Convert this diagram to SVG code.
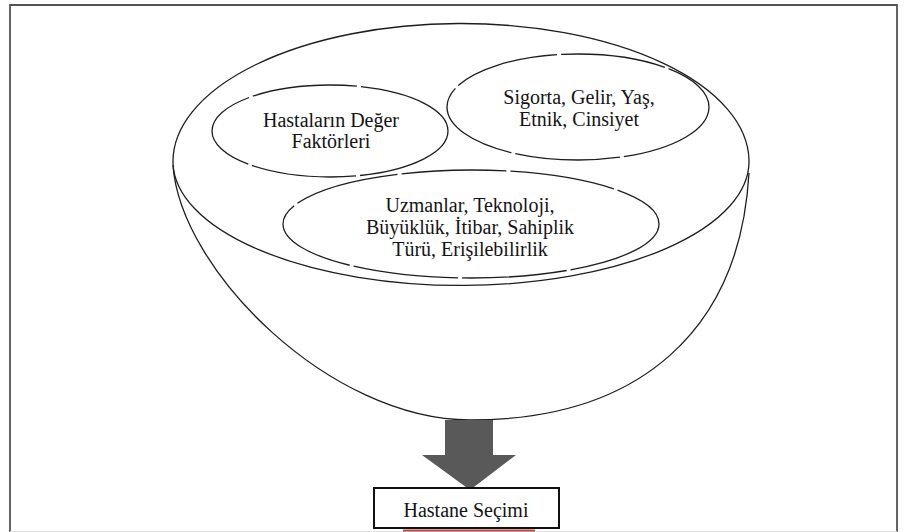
<svg xmlns="http://www.w3.org/2000/svg" width="905" height="532" viewBox="0 0 905 532">
  <style>
    .line { fill: none; stroke: #1e1e1e; stroke-width: 1.3; }
    .oval { fill: none; stroke: #1e1e1e; stroke-width: 1.3; stroke-dasharray: 105 4; }
    .label { font-size: 20px; fill: #141414; text-anchor: middle; }
  </style>

  <rect x="0" y="0" width="905" height="532" fill="#ffffff"/>

  <!-- page frame -->
  <path d="M10,532 V5 H897 V532" fill="none" stroke="#555555" stroke-width="1.8"/>
  <line x1="10" y1="531.5" x2="897" y2="531.5" stroke="#e2e2e2" stroke-width="1"/>

  <!-- bowl: open rim on top, rounded body underneath -->
  <g id="bowl">
    <path class="line" d="M173,163 A288,138 0 0 1 749,160"/>
    <path class="line" d="M173,163 A288,124 0 0 0 749,160"/>
    <path class="line" d="M173,165 C180,270 330,420 470,420 C640,420 740,330 749,173"/>
  </g>

  <g font-family="Liberation Serif, Tinos, Times New Roman, Times, Nimbus Roman, FreeSerif, DejaVu Serif, Noto Serif, serif">
    <g id="patient-values">
      <ellipse class="oval" cx="330" cy="131" rx="118" ry="46"/>
      <text class="label" x="331" y="127">Hastaların Değer</text>
      <text class="label" x="331" y="148">Faktörleri</text>
    </g>

    <g id="demographics">
      <ellipse class="oval" cx="578" cy="107" rx="131" ry="53"/>
      <text class="label" x="579" y="104">Sigorta, Gelir, Yaş,</text>
      <text class="label" x="579" y="126">Etnik, Cinsiyet</text>
    </g>

    <g id="hospital-features">
      <ellipse class="oval" cx="471" cy="224" rx="188" ry="54"/>
      <text class="label" x="470" y="212">Uzmanlar, Teknoloji,</text>
      <text class="label" x="470" y="234">Büyüklük, İtibar, Sahiplik</text>
      <text class="label" x="470" y="256">Türü, Erişilebilirlik</text>
    </g>

    <!-- connector: block arrow from the bowl down to the decision -->
    <g id="connectors">
      <polygon points="445,420 493,420 493,455 516,455 470,490 422,455 445,455" fill="#595959"/>
    </g>

    <g id="hospital-choice">
      <rect x="374" y="488" width="185" height="40" fill="#ffffff" stroke="#111111" stroke-width="2"/>
      <text class="label" x="466" y="517" font-size="21.5">Hastane Seçimi</text>
      <rect x="403" y="529.5" width="132" height="2" fill="#c8403a"/>
    </g>
  </g>
</svg>
